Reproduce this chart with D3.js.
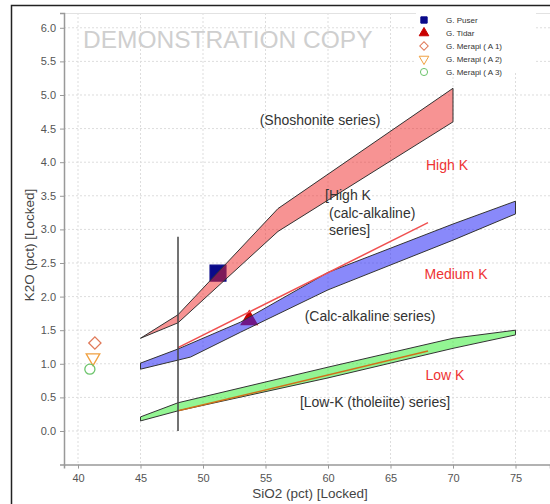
<!DOCTYPE html>
<html>
<head>
<meta charset="utf-8">
<script src="https://cdn.jsdelivr.net/npm/d3@7"></script>
<style>
  body { margin:0; background:#fff; }
  text { font-family: "Liberation Sans", Arial, sans-serif; }
</style>
</head>
<body>
<svg></svg>
<script>
var screen = {width:550,height:504}

// sample points
var sampleNames = ["G. Puser","G. Tidar","G. Merapi ( A 1)","G. Merapi ( A 2)","G. Merapi ( A 3)"]
var sampleSiO2 = [51.2, 53.7, 41.35, 41.2, 40.95]
var sampleK2O = [2.35, 1.65, 1.31, 1.09, 0.92]

// boundary bands (upper edge left->right, then lower edge right->left)
var shoshoniteSiO2 = [45, 48, 56, 70, 70, 56, 48, 45]
var shoshoniteK2O  = [1.38, 1.73, 3.31, 5.10, 4.60, 2.97, 1.61, 1.38]
var highKSiO2 = [45, 48, 53, 60, 70, 75, 75, 70, 60, 53, 49, 45]
var highKK2O  = [1.01, 1.22, 1.62, 2.36, 3.08, 3.42, 3.23, 2.84, 2.10, 1.47, 1.10, 0.92]
var lowKSiO2 = [45, 48, 60, 70, 75, 75, 70, 60, 48, 45]
var lowKK2O  = [0.21, 0.42, 0.95, 1.38, 1.50, 1.43, 1.23, 0.79, 0.30, 0.15]

// thin reference lines
var redLineSiO2 = [48, 68]
var redLineK2O = [1.24, 3.10]
var orangeLineSiO2 = [48, 68]
var orangeLineK2O = [0.30, 1.19]
var divideSiO2 = [48, 48]
var divideK2O = [0, 2.89]

var xTicks = [40,45,50,55,60,65,70,75]
var yTicks = [0,0.5,1,1.5,2,2.5,3,3.5,4,4.5,5,5.5,6]

var svg = d3.select("svg")
  .attr("width",screen.width)
  .attr("height",screen.height)

var xScale = d3.scaleLinear().domain([38.88,77.76]).range([64,550])
var yScale = d3.scaleLinear().domain([-0.5,6.22]).range([464.6,13])

// outer frame
svg.append("rect")
  .attr("x",11.5).attr("y",5.5)
  .attr("width",560).attr("height",520)
  .attr("fill","none").attr("stroke","#222").attr("stroke-width",1.5)

// grid
svg.append("g").selectAll("line")
  .data(xTicks).enter().append("line")
  .attr("x1",function(d){return xScale(d)}).attr("x2",function(d){return xScale(d)})
  .attr("y1",13).attr("y2",464.6)
  .attr("stroke","#ddd").attr("stroke-dasharray","2,2")
svg.append("g").selectAll("line")
  .data(yTicks).enter().append("line")
  .attr("y1",function(d){return yScale(d)}).attr("y2",function(d){return yScale(d)})
  .attr("x1",64).attr("x2",550)
  .attr("stroke","#ddd").attr("stroke-dasharray","2,2")

// plot top border
svg.append("line").attr("x1",64).attr("x2",550).attr("y1",13.5).attr("y2",13.5)
  .attr("stroke","#e2e2e2")

// axes
var xAxis = d3.axisBottom(xScale).tickValues(xTicks).tickSize(4).tickPadding(6)
  .tickFormat(d3.format("d"))
var yAxis = d3.axisLeft(yScale).tickValues(yTicks).tickSize(4).tickPadding(4)
  .tickFormat(d3.format(".1f"))

var gx = svg.append("g").attr("transform","translate(0,464.6)").call(xAxis)
var gy = svg.append("g").attr("transform","translate(64,0)").call(yAxis)
;[gx,gy].forEach(function(g){
  g.select(".domain").attr("stroke","#999").attr("stroke-width",1.5)
  g.selectAll(".tick line").attr("stroke","#999")
  g.selectAll(".tick text").attr("fill","#555").attr("font-size","11px")
    .style("font-family","'Liberation Sans', Arial, sans-serif")
})

// watermark
svg.append("text").attr("x",83).attr("y",48)
  .attr("font-size","24.5px").attr("fill","#cfcfcf")
  .text("DEMONSTRATION COPY")

// axis titles
svg.append("text").attr("x",310).attr("y",498).attr("text-anchor","middle")
  .attr("font-size","13.5px").attr("fill","#444").text("SiO2 (pct) [Locked]")
svg.append("text").attr("transform","translate(34,245) rotate(-90)").attr("text-anchor","middle")
  .attr("font-size","13.5px").attr("fill","#444").text("K2O (pct) [Locked]")

// samples (drawn below the translucent bands)
var symbols = [d3.symbolSquare, d3.symbolTriangle, d3.symbolSquare, d3.symbolTriangle, d3.symbolCircle]
var sizes = [250, 110, 75, 80, 80]
var fills = ["#0a0a8a","#c80000","none","none","none"]
var strokes = ["#0a0a8a","#c80000","#e07a5a","#f0a040","#6cc46c"]
var rotations = [0,0,45,180,0]

svg.append("g").selectAll("path")
  .data(sampleSiO2).enter().append("path")
  .attr("d",function(d,i){return d3.symbol().type(symbols[i]).size(sizes[i])()})
  .attr("transform",function(d,i){
    return "translate("+xScale(d)+","+yScale(sampleK2O[i])+") rotate("+rotations[i]+")"})
  .attr("fill",function(d,i){return fills[i]})
  .attr("stroke",function(d,i){return strokes[i]})
  .attr("stroke-width",1.3)

// bands
var bandLine = d3.line()
  .x(function(d){return xScale(d[0])})
  .y(function(d){return yScale(d[1])})

var bands = [
  {x:shoshoniteSiO2, y:shoshoniteK2O, fill:"rgba(240,40,40,0.5)"},
  {x:highKSiO2, y:highKK2O, fill:"rgba(40,40,245,0.55)"},
  {x:lowKSiO2, y:lowKK2O, fill:"rgba(40,235,40,0.5)"}
]
bands.forEach(function(b){
  svg.append("path")
    .attr("d",bandLine(b.x.map(function(v,i){return [v,b.y[i]]}))+"Z")
    .attr("fill",b.fill)
    .attr("stroke","#333").attr("stroke-width",1)
})

var lines = [
  {x:redLineSiO2, y:redLineK2O, color:"#f05050", w:1.5},
  {x:orangeLineSiO2, y:orangeLineK2O, color:"#d0701a", w:1.5},
  {x:divideSiO2, y:divideK2O, color:"#444", w:1.5}
]
lines.forEach(function(l){
  svg.append("path")
    .attr("d",bandLine(l.x.map(function(v,i){return [v,l.y[i]]})))
    .attr("fill","none").attr("stroke",l.color).attr("stroke-width",l.w)
})

// annotations
var notes = [
  {x:320,y:125,t:"(Shoshonite series)",c:"#333",a:"middle"},
  {x:447,y:170,t:"High K",c:"#ee3333",a:"middle"},
  {x:325,y:200,t:"[High K",c:"#333",a:"start"},
  {x:329,y:218,t:"(calc-alkaline)",c:"#333",a:"start"},
  {x:329,y:235,t:"series]",c:"#333",a:"start"},
  {x:456,y:279,t:"Medium K",c:"#ee3333",a:"middle"},
  {x:370,y:321,t:"(Calc-alkaline series)",c:"#333",a:"middle"},
  {x:445,y:380,t:"Low K",c:"#ee3333",a:"middle"},
  {x:375,y:407,t:"[Low-K (tholeiite) series]",c:"#333",a:"middle"}
]
svg.append("g").selectAll("text")
  .data(notes).enter().append("text")
  .attr("x",function(d){return d.x}).attr("y",function(d){return d.y})
  .attr("text-anchor",function(d){return d.a})
  .attr("fill",function(d){return d.c})
  .attr("font-size","14px")
  .text(function(d){return d.t})

// legend
var legend = svg.append("g").attr("transform","translate(424,20)")
legend.append("rect").attr("x",-8).attr("y",-9).attr("width",120).attr("height",62).attr("fill","#fff")
legend.selectAll("path")
  .data(sampleNames).enter().append("path")
  .attr("d",function(d,i){return d3.symbol().type(symbols[i]).size(i==2?36:40)()})
  .attr("transform",function(d,i){return "translate(0,"+(i*13)+") rotate("+rotations[i]+")"})
  .attr("fill",function(d,i){return fills[i]})
  .attr("stroke",function(d,i){return strokes[i]})
legend.selectAll("text")
  .data(sampleNames).enter().append("text")
  .attr("x",22).attr("y",function(d,i){return i*13+3})
  .attr("font-size","8px").attr("fill","#333")
  .text(function(d){return d})
</script>
</body>
</html>
